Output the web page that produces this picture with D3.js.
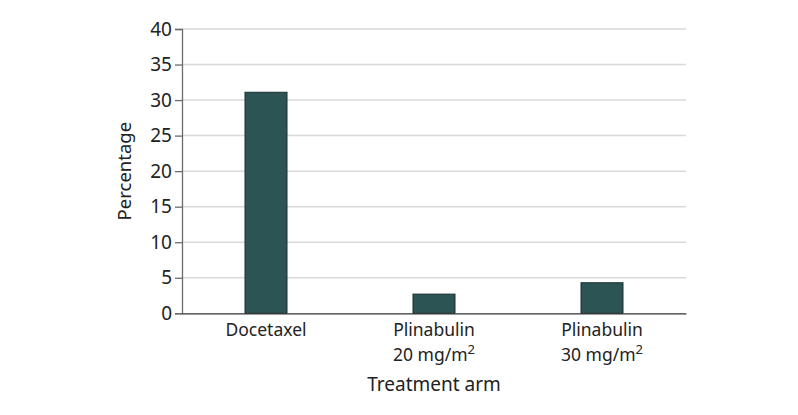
<!DOCTYPE html>
<html><head><meta charset="utf-8">
<script src="https://cdn.jsdelivr.net/npm/d3@7"></script>
<style>body{margin:0;background:#fff}text{font-family:"Noto Sans",sans-serif}</style>
</head><body>
<svg id="c" width="798" height="415"></svg>
<script>
const categories = ["Docetaxel", "Plinabulin 20", "Plinabulin 30"];
const labelLine1 = ["Docetaxel", "Plinabulin", "Plinabulin"];
const labelLine2 = ["", "20 mg/m", "30 mg/m"];
const values = [31.1, 2.7, 4.3];
const yTicks = [0, 5, 10, 15, 20, 25, 30, 35, 40];

const FONT = "'Noto Sans',sans-serif";
const svg = d3.select("#c");
const m = {l: 182, r: 112, t: 29, b: 102};
const W = 798, H = 415;
const x = d3.scaleBand().domain(categories).range([m.l, W - m.r]).paddingInner(0.75).paddingOuter(0.375);
const y = d3.scaleLinear().domain([0, 40]).range([H - m.b + 0.3, m.t]);

// gridlines
svg.append("g").selectAll("line").data(yTicks.filter(d => d > 0)).join("line")
  .attr("x1", m.l).attr("x2", W - m.r).attr("y1", d => y(d)).attr("y2", d => y(d))
  .attr("stroke", "#d9d9d9").attr("stroke-width", 1.5);

// bars
svg.append("g").selectAll("rect").data(values).join("rect")
  .attr("x", (d, i) => x(categories[i])).attr("width", x.bandwidth())
  .attr("y", d => y(d)).attr("height", d => y(0) - y(d))
  .attr("fill", "#2c5454").attr("stroke", "#1a2e2e").attr("stroke-width", 1);

// y axis
const ya = svg.append("g").attr("transform", `translate(${m.l},0)`)
  .call(d3.axisLeft(y).tickValues(yTicks).tickSize(7).tickPadding(3));
ya.attr("font-family", null).attr("font-size", null);
ya.select(".domain").attr("stroke", "#6b6b6b").attr("stroke-width", 1.3);
ya.selectAll(".tick line").attr("stroke", "#6b6b6b").attr("stroke-width", 1.3);
ya.selectAll(".tick text").attr("font-size", 19).attr("fill", "#222").style("font-family", FONT);

// x axis
const xa = svg.append("g").attr("transform", `translate(0,${y(0)})`)
  .call(d3.axisBottom(x).tickSize(0).tickFormat(""));
xa.select(".domain").attr("stroke", "#333").attr("stroke-width", 1.3);

const lab = svg.append("g").selectAll("text").data(categories).join("text")
  .attr("x", d => x(d) + x.bandwidth() / 2).attr("y", y(0) + 23)
  .attr("text-anchor", "middle").attr("font-size", 17.5).attr("fill", "#222");
lab.append("tspan").attr("x", d => x(d) + x.bandwidth() / 2).text((d, i) => labelLine1[i]);
lab.each(function(d, i) {
  if (labelLine2[i]) {
    d3.select(this).append("tspan").attr("x", x(d) + x.bandwidth() / 2).attr("dy", 25).text(labelLine2[i]);
    d3.select(this).append("tspan").attr("dy", -7).attr("font-size", 13).text("2");
  }
});

svg.append("text").attr("x", (m.l + W - m.r) / 2).attr("y", 391).attr("text-anchor", "middle")
  .attr("font-size", 19).attr("fill", "#222").text("Treatment arm");
svg.append("text").attr("transform", `translate(131,${(m.t + y(0)) / 2}) rotate(-90)`)
  .attr("text-anchor", "middle").attr("font-size", 18.5).attr("fill", "#222").text("Percentage");
</script>
</body></html>
